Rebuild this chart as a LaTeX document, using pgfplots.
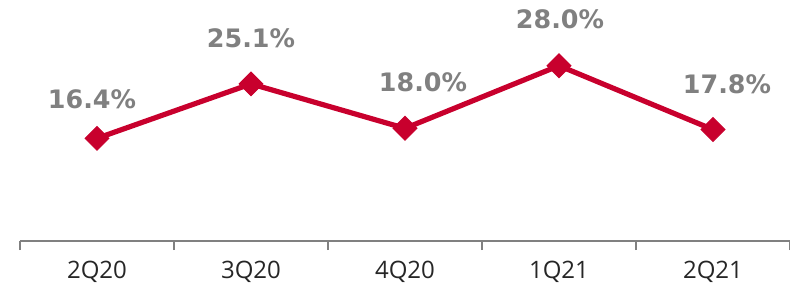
\documentclass[border=0pt]{standalone}
\usepackage{pgfplots}
\usepackage{pgfplotstable}
\pgfplotsset{compat=1.18}
\usepackage{fontspec}
\setmainfont{Open Sans}
\newfontfamily\labfont{DejaVu Sans}
\definecolor{cred}{HTML}{C8002D}
\definecolor{cgray}{HTML}{808080}
\definecolor{ctext}{HTML}{262626}
\pgfplotstableread{
x y dx dy
0 16.4 -2.5 19.5
1 25.1 0 23
2 18.0 9 23
3 28.0 0.5 23
4 17.8 7 22.5
}\datatable
\begin{document}
\begin{tikzpicture}
\useasboundingbox (0,0) rectangle (395pt,147.5pt);
\begin{axis}[
  at={(10pt,27pt)}, anchor=south west,
  scale only axis, width=385pt, height=120.5pt,
  xmin=-0.5, xmax=4.5, ymin=0, ymax=38.5,
  clip=false,
  axis y line=none, axis x line*=bottom,
  x axis line style={cgray, line width=0.8pt, -},
  xtick={0,1,2,3,4},
  xticklabels={2Q20,3Q20,4Q20,1Q21,2Q21},
  major tick length=0pt,
  minor xtick={-0.5,0.5,1.5,2.5,3.5,4.5},
  minor tick length=4.5pt,
  tick align=outside,
  minor tick style={cgray, line width=0.8pt},
  xticklabel style={font=\fontsize{12}{14}\selectfont, text=ctext, yshift=-6.5pt},
]
\addplot[cred, line width=2.6pt, mark=square*, mark size=4.2pt,
  mark options={rotate=45, line width=0.5pt, fill=cred, draw=cred},
  visualization depends on={\thisrow{dx} \as \dx},
  visualization depends on={\thisrow{dy} \as \dy},
  nodes near coords={\pgfmathprintnumber[fixed,fixed zerofill,precision=1,assume math mode=true]{\pgfplotspointmeta}\%},
  nodes near coords style={font=\labfont\bfseries\fontsize{12.7}{14}\selectfont, text=cgray, anchor=center, xshift=\dx pt, yshift=\dy pt},
  ] table[x=x, y=y] {\datatable};
\end{axis}
\end{tikzpicture}
\end{document}
